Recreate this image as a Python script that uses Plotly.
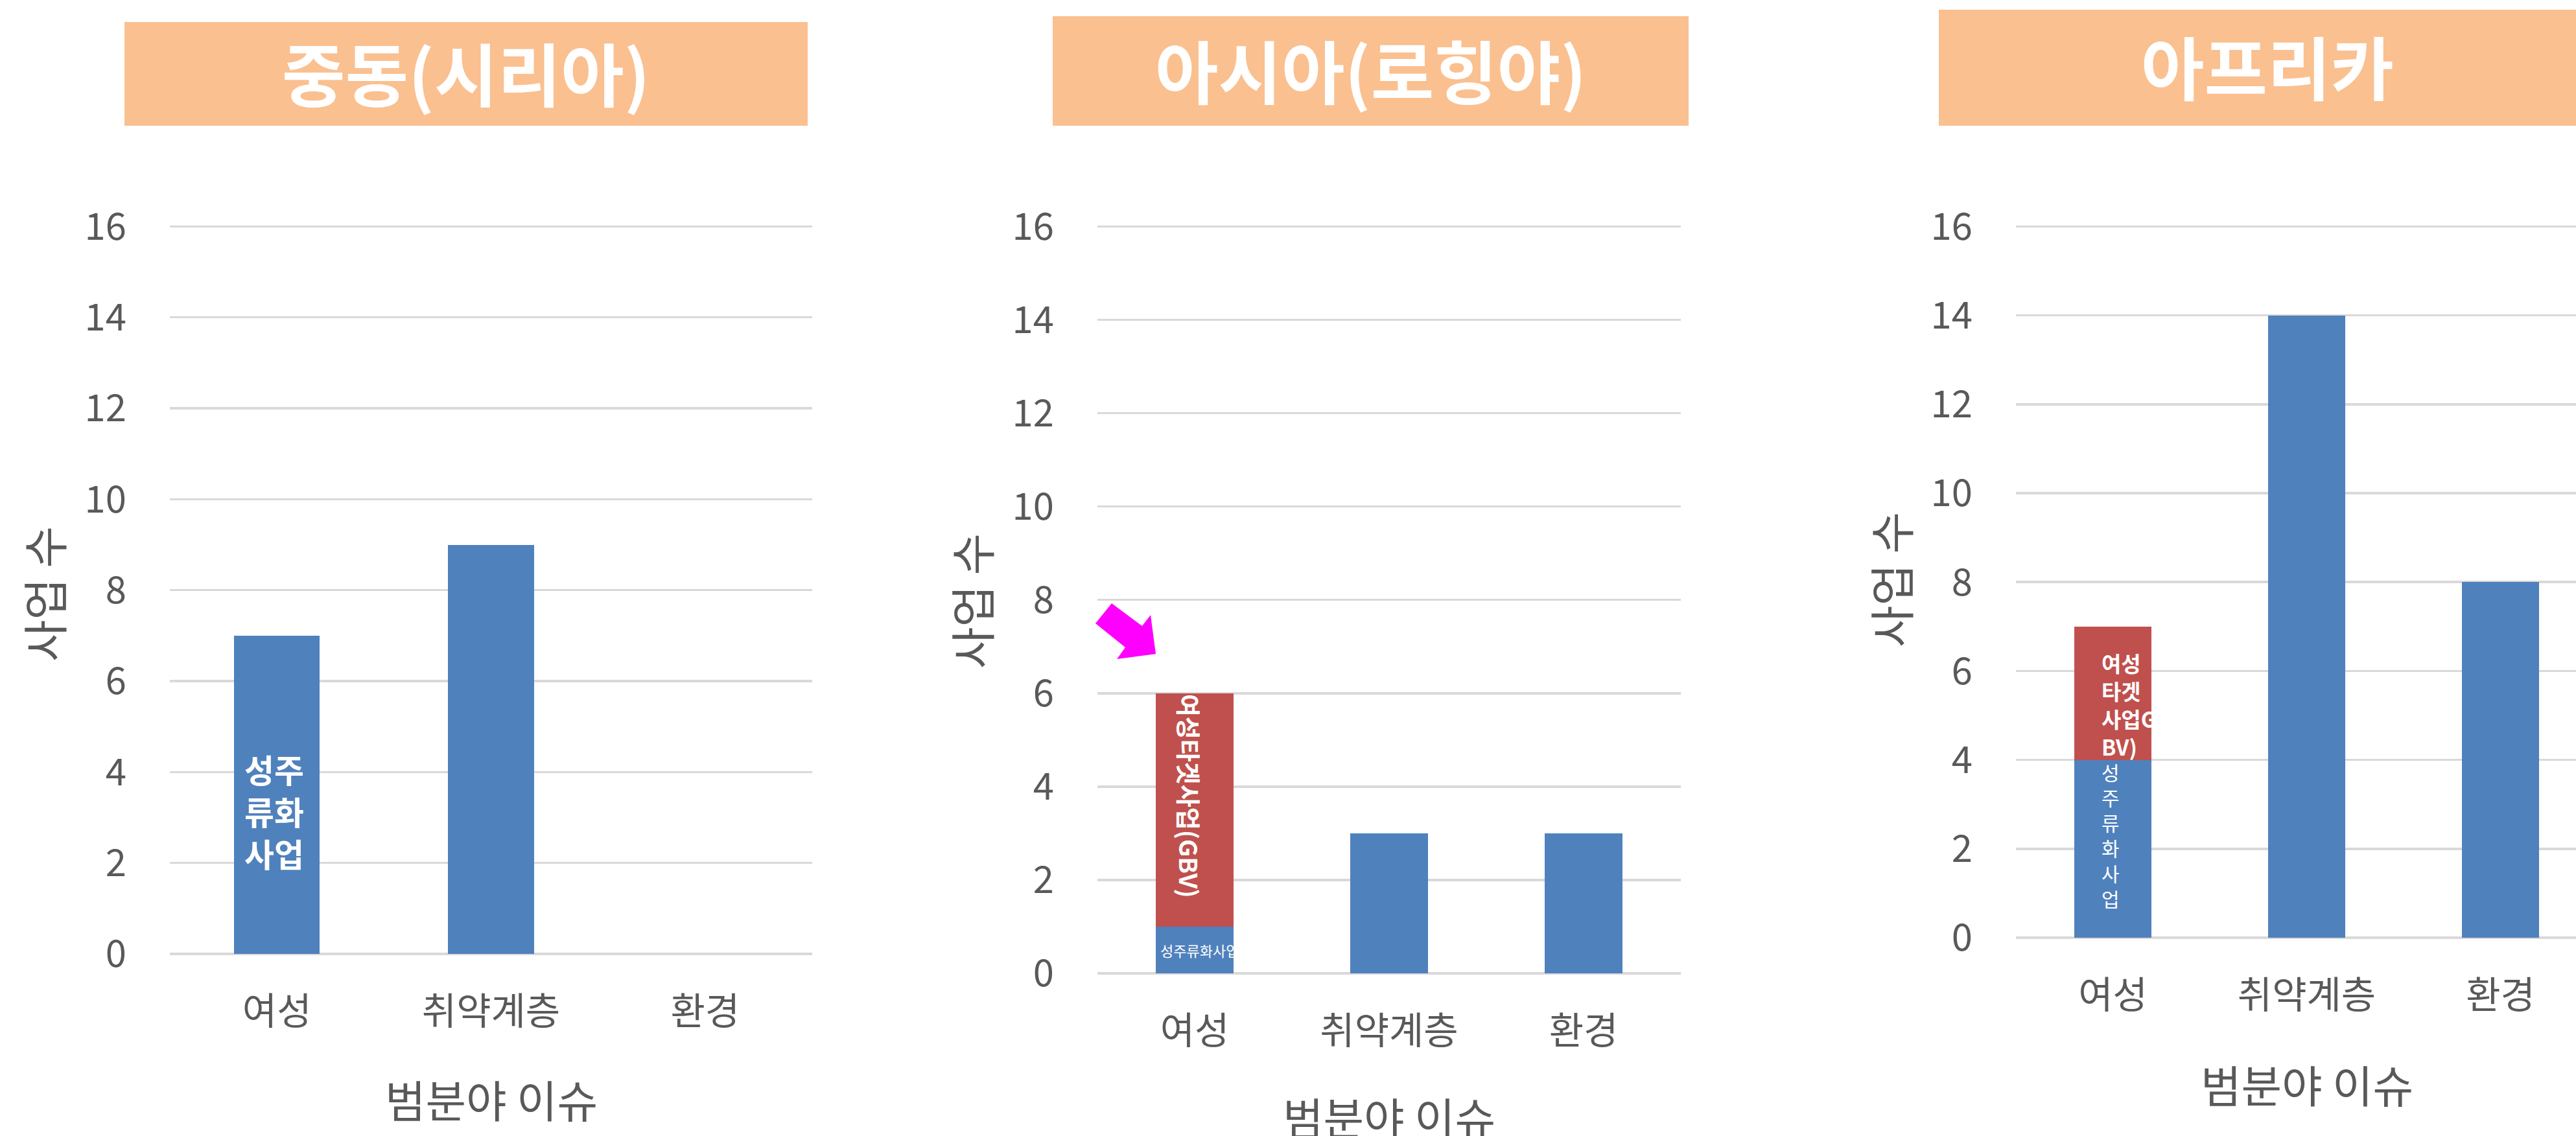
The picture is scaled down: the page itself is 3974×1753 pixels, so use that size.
import plotly.graph_objects as go

W, H = 3974, 1753

# ---------------- data ----------------
categories = ["여성", "취약계층", "환경"]
region_titles = ["중동(시리아)", "아시아(로힝야)", "아프리카"]

mideast_mainstream = [7, 9, 0]
mideast_gbv = [0, 0, 0]
asia_mainstream = [1, 3, 3]
asia_gbv = [5, 0, 0]
africa_mainstream = [4, 14, 8]
africa_gbv = [3, 0, 0]

y_tick_vals = [0, 2, 4, 6, 8, 10, 12, 14, 16]
y_title = "사업 수"
x_title = "범분야 이슈"

mideast_label_main = "성주<br>류화<br>사업"
asia_label_main = "성주류화사업"
asia_label_gbv = "여성타겟사업(GBV)"
africa_label_main = "성<br>주<br>류<br>화<br>사<br>업"
africa_label_gbv = "여성<br>타겟<br>사업G<br>BV)"

# ---------------- style ----------------
BLUE = "#4F81BD"
RED = "#C0504D"
BOX = "#FAC090"
TXT = "#595959"
GRID = "#D9D9D9"
FONT = "Noto Sans CJK KR"


def px_x(x):
    return x / W


def px_y(y):
    return 1 - y / H


# panel geometry (pixels): plot left, right, y0 pixel, y16 pixel
panels = [
    dict(x0=262, x1=1253, yb=1472, yt=348, rng=[-0.5, 2.5],
         box=(192, 34, 1246, 194), ylab_x=67, ylab_y=917, xlab_y=1695),
    dict(x0=1693, x1=2593, yb=1502, yt=348, rng=[-0.5, 2.5],
         box=(1624, 25, 2605, 194), ylab_x=1497, ylab_y=928, xlab_y=1722),
    dict(x0=3110, x1=3974, yb=1447, yt=348, rng=[-0.5, -0.5 + 864 / 299],
         box=(2991, 15, 4005, 194), ylab_x=2916, ylab_y=895, xlab_y=1672),
]

series = [
    (mideast_mainstream, mideast_gbv),
    (asia_mainstream, asia_gbv),
    (africa_mainstream, africa_gbv),
]

fig = go.Figure()
for i, (main, gbv) in enumerate(series):
    ax = "" if i == 0 else str(i + 1)
    fig.add_trace(go.Bar(x=categories, y=main, marker_color=BLUE,
                         marker_line_width=0, xaxis="x" + ax, yaxis="y" + ax,
                         hoverinfo="skip"))
    fig.add_trace(go.Bar(x=categories, y=gbv, marker_color=RED,
                         marker_line_width=0, xaxis="x" + ax, yaxis="y" + ax,
                         hoverinfo="skip"))

layout = dict(
    width=W, height=H,
    margin=dict(l=0, r=0, t=0, b=0, pad=0),
    paper_bgcolor="white", plot_bgcolor="white",
    barmode="stack", bargap=0.6, showlegend=False,
    font=dict(family=FONT, color=TXT),
)

shapes = []
annotations = []
for i, p in enumerate(panels):
    ax = "" if i == 0 else str(i + 1)
    xd = [px_x(p["x0"]), min(1.0, px_x(p["x1"]))]
    yd = [px_y(p["yb"]), px_y(p["yt"])]
    layout["xaxis" + ax] = dict(
        domain=xd, range=p["rng"], type="category", automargin=False,
        showgrid=False, zeroline=False, showline=False, ticks="",
        tickfont=dict(size=58, color=TXT, family=FONT),
        ticklabelstandoff=50, anchor="y" + ax, fixedrange=True,
    )
    layout["yaxis" + ax] = dict(
        domain=yd, range=[0, 16.02], tickvals=y_tick_vals, automargin=False,
        showgrid=True, gridcolor=GRID, gridwidth=3.5,
        zeroline=True, zerolinecolor=GRID, zerolinewidth=3.5,
        showline=False, ticks="",
        tickfont=dict(size=58, color=TXT, family=FONT),
        ticklabelstandoff=66, anchor="x" + ax, fixedrange=True,
    )
    bx0, by0, bx1, by1 = p["box"]
    shapes.append(dict(type="rect", xref="paper", yref="paper",
                       x0=px_x(bx0), x1=px_x(bx1), y0=px_y(by1), y1=px_y(by0),
                       fillcolor=BOX, line_width=0, layer="below"))
    annotations.append(dict(text=region_titles[i], xref="paper", yref="paper",
                            x=px_x((bx0 + bx1) / 2), y=px_y((by0 + by1) / 2 - 4),
                            showarrow=False, xanchor="center", yanchor="middle",
                            font=dict(size=106, color="white", family=FONT, weight="bold")))
    annotations.append(dict(text=y_title, xref="paper", yref="paper",
                            x=px_x(p["ylab_x"]), y=px_y(p["ylab_y"]), textangle=-90,
                            showarrow=False, xanchor="center", yanchor="middle",
                            font=dict(size=70, color=TXT, family=FONT)))
    full_right = p["x0"] + 3 * (p["x1"] - p["x0"]) / (p["rng"][1] - p["rng"][0])
    annotations.append(dict(text=x_title, xref="paper", yref="paper",
                            x=px_x((p["x0"] + full_right) / 2),
                            y=px_y(p["xlab_y"]),
                            showarrow=False, xanchor="center", yanchor="middle",
                            font=dict(size=68, color=TXT, family=FONT)))

# bar labels
annotations += [
    dict(text=mideast_label_main, xref="x", yref="y", x=categories[0],
         y=mideast_mainstream[0] / 2, yshift=-25, xshift=-4, showarrow=False,
         font=dict(size=50, color="white", family=FONT, weight="bold")),
    dict(text=asia_label_gbv, xref="x2", yref="y2", x=categories[0],
         y=asia_mainstream[0] + asia_gbv[0] / 2, yshift=22, xshift=-8,
         textangle=90, showarrow=False,
         font=dict(size=38, color="white", family=FONT, weight="bold")),
    dict(text=asia_label_main, xref="x2", yref="y2", x=categories[0],
         y=asia_mainstream[0] / 2, xshift=-55, xanchor="left", showarrow=False,
         font=dict(size=22, color="white", family=FONT)),
    dict(text=africa_label_gbv, xref="x3", yref="y3", x=categories[0],
         y=africa_mainstream[0] + africa_gbv[0] / 2, yshift=-18, xshift=-20,
         xanchor="left", align="left", showarrow=False,
         font=dict(size=33, color="white", family=FONT, weight="bold")),
    dict(text=africa_label_main, xref="x3", yref="y3", x=categories[0],
         y=africa_mainstream[0] / 2, yshift=21, xshift=-4, showarrow=False,
         font=dict(size=30, color="white", family=FONT)),
]

# magenta block arrow (decoration)
arrow_pts = [(1715, 931), (1762, 966), (1775, 949), (1783, 1009),
             (1723, 1017), (1736, 999), (1690, 962)]
path = "M " + " L ".join(f"{px_x(x):.5f},{px_y(y):.5f}" for x, y in arrow_pts) + " Z"
shapes.append(dict(type="path", xref="paper", yref="paper", path=path,
                   fillcolor="#FF00FF", line_width=0))

layout["shapes"] = shapes
layout["annotations"] = annotations
fig.update_layout(**layout)

fig.write_html("out.html",
               config={"displayModeBar": False, "staticPlot": True},
               post_script="document.body.style.margin='0';document.body.style.overflow='hidden';")
